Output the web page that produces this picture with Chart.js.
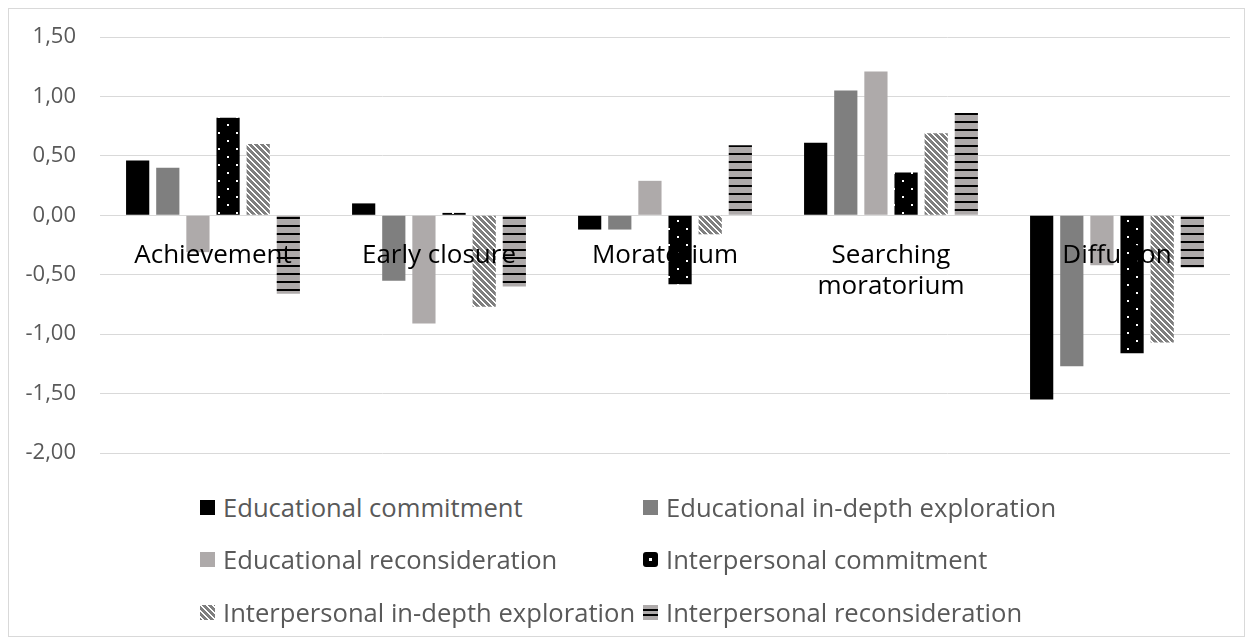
<!DOCTYPE html>
<html>
<head>
<meta charset="utf-8">
<title>Identity statuses</title>
<script src="https://cdn.jsdelivr.net/npm/chart.js@4/dist/chart.umd.min.js"></script>
<style>
  html, body { margin: 0; padding: 0; background: #fff; }
  body { width: 1252px; height: 644px; position: relative; overflow: hidden; font-family: 'Open Sans', sans-serif; }
  .frame { position: absolute; left: 8px; top: 8px; width: 1235px; height: 627px; border: 1px solid #d9d9d9; }
  .chart-wrap { position: absolute; left: 0; top: 0; width: 1235px; height: 470px; }
  #legend { position: absolute; left: 191px; top: 472px; display: grid; grid-template-columns: 443px auto; grid-auto-rows: 52.5px; }
  .lg-item { display: flex; align-items: center; font-size: 25.6px; color: #595959; white-space: nowrap; }
  .lg-item canvas { width: 15px; height: 15px; margin-right: 8px; flex: none; }
</style>
</head>
<body>
<div class="frame">
  <div class="chart-wrap"><canvas id="statusChart"></canvas></div>
  <div id="legend"></div>
</div>

<script>
/* ---- data ---- */
const categories = ['Achievement', 'Early closure', 'Moratorium', ['Searching', 'moratorium'], 'Diffusion'];
const yTicks = [-2, -1.5, -1, -0.5, 0, 0.5, 1, 1.5];

const eduCommitment     = [0.46, 0.10, -0.12, 0.61, -1.55];
const eduExploration    = [0.40, -0.55, -0.12, 1.05, -1.27];
const eduReconsider     = [-0.31, -0.91, 0.29, 1.21, -0.42];
const interCommitment   = [0.82, 0.02, -0.58, 0.36, -1.16];
const interExploration  = [0.60, -0.77, -0.16, 0.69, -1.07];
const interReconsider   = [-0.66, -0.60, 0.59, 0.86, -0.44];

/* ---- fill patterns ---- */
function tile(w, h, draw) {
  const c = document.createElement('canvas');
  c.width = w; c.height = h;
  draw(c.getContext('2d'));
  return c;
}

const tiles = {
  dots: tile(18, 16, g => {
    g.fillStyle = '#000'; g.fillRect(0, 0, 18, 16);
    g.fillStyle = '#fff';
    g.fillRect(2, 3, 2, 2);
    g.fillRect(11, 11, 2, 2);
  }),
  diag: tile(6, 6, g => {
    g.fillStyle = '#7f7f7f'; g.fillRect(0, 0, 6, 6);
    g.fillStyle = '#fff';
    for (let y = 0; y < 6; y++) {
      for (let x = 0; x < 6; x++) {
        const k = ((x - y) % 6 + 6) % 6;
        if (k < 2) g.fillRect(x, y, 1, 1);
      }
    }
  }),
  stripes: tile(4, 8, g => {
    g.fillStyle = '#aeaaaa'; g.fillRect(0, 0, 4, 8);
    g.fillStyle = '#000'; g.fillRect(0, 0, 4, 2);
  })
};

function pattern(ctx, name) {
  return ctx.createPattern(tiles[name], 'repeat');
}

const canvas = document.getElementById('statusChart');
const ctx = canvas.getContext('2d');

const series = [
  { label: 'Educational commitment',             data: eduCommitment,    fill: '#000000' },
  { label: 'Educational in-depth exploration',   data: eduExploration,   fill: '#7f7f7f' },
  { label: 'Educational reconsideration',        data: eduReconsider,    fill: '#aeaaaa' },
  { label: 'Interpersonal commitment',           data: interCommitment,  fill: 'dots' },
  { label: 'Interpersonal in-depth exploration', data: interExploration, fill: 'diag' },
  { label: 'Interpersonal reconsideration',      data: interReconsider,  fill: 'stripes' }
];

const fmtTick = v => v.toFixed(2).replace('.', ',');

const chart = new Chart(ctx, {
  type: 'bar',
  data: {
    labels: categories,
    datasets: series.map(s => ({
      label: s.label,
      data: s.data,
      backgroundColor: tiles[s.fill] ? pattern(ctx, s.fill) : s.fill,
      borderWidth: 0,
      categoryPercentage: 0.8,
      barPercentage: 0.77
    }))
  },
  options: {
    responsive: true,
    maintainAspectRatio: false,
    animation: false,
    layout: { padding: { top: 28, right: 14, bottom: 26, left: 0 } },
    plugins: {
      legend: { display: false },
      tooltip: { enabled: false }
    },
    scales: {
      x: {
        position: { y: 0 },
        grid: { display: false },
        border: { display: false },
        afterFit: s => { s.height = 0; },
        ticks: {
          z: 1,   // labels sit on top of the bars, like the original
          color: '#000',
          font: { family: 'Open Sans', size: 26 },
          padding: 17,
          maxRotation: 0,
          autoSkip: false
        }
      },
      y: {
        min: -2,
        max: 1.5,
        afterFit: s => { s.width = 91; },
        afterBuildTicks: s => { s.ticks = yTicks.map(v => ({ value: v })); },
        grid: { color: '#d9d9d9', lineWidth: 1, drawTicks: true, tickLength: 24, tickColor: 'rgba(0,0,0,0)' },
        border: { display: false },
        ticks: {
          color: '#595959',
          font: { family: 'Open Sans', size: 22 },
          padding: 0,
          callback: v => fmtTick(v)
        }
      }
    }
  }
});

/* ---- html legend, laid out in two aligned columns ---- */
const legendEl = document.getElementById('legend');
legendEl.innerHTML = '';
series.forEach(s => {
  const item = document.createElement('div');
  item.className = 'lg-item';
  const sw = document.createElement('canvas');
  sw.width = 15; sw.height = 15;
  const g = sw.getContext('2d');
  g.fillStyle = tiles[s.fill] ? g.createPattern(tiles[s.fill], 'repeat') : s.fill;
  if (s.fill === 'dots') {
    g.fillStyle = '#000';
    g.beginPath(); g.roundRect(0, 0, 15, 15, 3); g.fill();
    g.fillStyle = '#fff'; g.fillRect(6, 6, 3, 3);
  } else if (s.fill === 'stripes') {
    g.fillStyle = '#aeaaaa'; g.fillRect(0, 0, 15, 15);
    g.fillStyle = '#000'; g.fillRect(0, 4, 15, 2); g.fillRect(0, 9, 15, 2);
  } else {
    g.fillRect(0, 0, 15, 15);
  }
  const txt = document.createElement('span');
  txt.textContent = s.label;
  item.appendChild(sw);
  item.appendChild(txt);
  legendEl.appendChild(item);
});
</script>
</body>
</html>
